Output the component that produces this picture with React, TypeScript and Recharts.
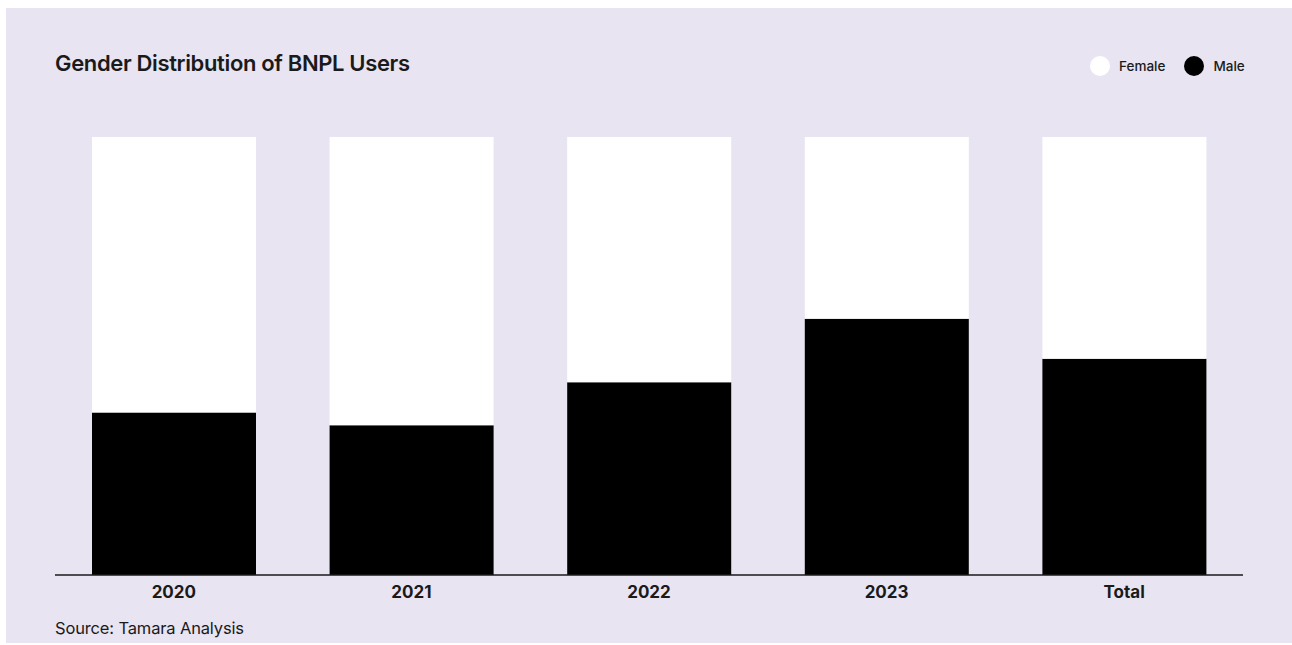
import { BarChart, Bar, XAxis, YAxis } from 'recharts'

const categories = ['2020', '2021', '2022', '2023', 'Total']
const maleShare = [37.1, 34.2, 44.0, 58.5, 49.4]
const femaleShare = [62.9, 65.8, 56.0, 41.5, 50.6]

const seriesNames = ['Female', 'Male']
const seriesColors = ['#ffffff', '#000000']

const data = categories.map((name, i) => ({
    name,
    male: maleShare[i],
    female: femaleShare[i],
}))

const font = "Inter, 'Noto Sans', sans-serif"

export default function App() {
    return (
        <div
            style={{
                position: 'fixed',
                left: 6,
                top: 8,
                width: 1286,
                height: 635,
                background: '#e8e4f2',
                fontFamily: font,
                color: '#1a1a1a',
            }}
        >
            <div
                style={{
                    position: 'absolute',
                    left: 49,
                    top: 44,
                    fontSize: 22,
                    fontWeight: 600,
                    lineHeight: 1,
                    letterSpacing: -0.35,
                }}
            >
                Gender Distribution of BNPL Users
            </div>

            <div
                style={{
                    position: 'absolute',
                    left: 1084,
                    top: 48,
                    display: 'flex',
                    alignItems: 'center',
                    fontSize: 13.5,
                    fontWeight: 500,
                }}
            >
                {seriesNames.map((n, i) => (
                    <div key={n} style={{ display: 'flex', alignItems: 'center', marginRight: i === 0 ? 19 : 0 }}>
                        <span
                            style={{
                                width: 20,
                                height: 20,
                                borderRadius: 10,
                                background: seriesColors[i],
                                marginRight: 9,
                            }}
                        />
                        {n}
                    </div>
                ))}
            </div>

            <BarChart
                width={1286}
                height={635}
                data={data}
                margin={{ top: 129, right: 49, bottom: 38, left: 49 }}
                style={{ position: 'absolute', left: 0, top: 0 }}
            >
                <XAxis
                    dataKey="name"
                    height={30}
                    tickLine={false}
                    tickMargin={5}
                    axisLine={{ stroke: '#1a1a1a', strokeWidth: 1.5 }}
                    tick={{ fill: '#1a1a1a', fontSize: 17, fontWeight: 700, fontFamily: font }}
                />
                <YAxis hide domain={[0, 100]} />
                <Bar dataKey="male" stackId="a" fill={seriesColors[1]} barSize={164} name="Male" isAnimationActive={false} />
                <Bar dataKey="female" stackId="a" fill={seriesColors[0]} barSize={164} name="Female" isAnimationActive={false} />
            </BarChart>

            <div
                style={{
                    position: 'absolute',
                    left: 49,
                    top: 612,
                    fontSize: 16.5,
                    lineHeight: 1,
                    letterSpacing: -0.15,
                }}
            >
                Source: Tamara Analysis
            </div>
        </div>
    )
}
